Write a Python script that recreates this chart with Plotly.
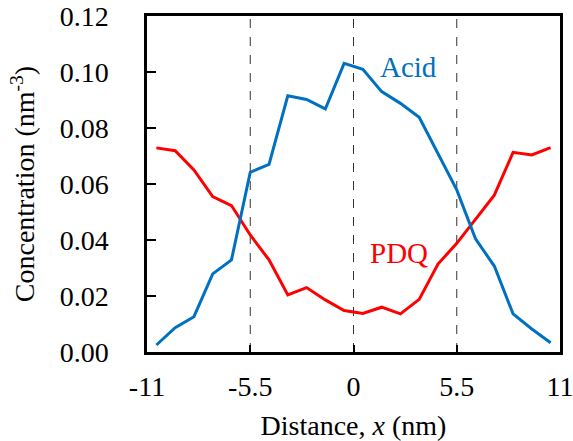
import plotly.graph_objects as go

x_pos = [-10.5, -9.5, -8.5, -7.5, -6.5, -5.5, -4.5, -3.5, -2.5, -1.5, -0.5,
         0.5, 1.5, 2.5, 3.5, 4.5, 5.5, 6.5, 7.5, 8.5, 9.5, 10.5]
acid = [0.0025, 0.0087, 0.0126, 0.0279, 0.0329, 0.0642, 0.0670, 0.0915, 0.0902, 0.0868, 0.1031,
        0.1010, 0.0930, 0.0888, 0.0838, 0.0709, 0.0579, 0.0404, 0.0307, 0.0136, 0.0082, 0.0033]
pdq = [0.0729, 0.0719, 0.0650, 0.0555, 0.0523, 0.0418, 0.0329, 0.0204, 0.0230, 0.0186, 0.0148,
       0.0138, 0.0160, 0.0136, 0.0188, 0.0314, 0.0388, 0.0475, 0.0560, 0.0713, 0.0704, 0.0730]
x_ticks = [-11, -5.5, 0, 5.5, 11]
x_tick_text = ["-11", "-5.5", "0", "5.5", "11"]
y_ticks = [0, 0.02, 0.04, 0.06, 0.08, 0.10, 0.12]
dash_x = [-5.5, 0, 5.5]

FONT = "Liberation Serif"
BLUE = "#0070C0"
RED = "#FF0000"

fig = go.Figure()
for dx in dash_x:
    fig.add_shape(type="line", x0=dx, x1=dx, y0=0, y1=0.12, xref="x", yref="y",
                  line=dict(color="#333333", width=1, dash="dash"), layer="below")

fig.add_trace(go.Scatter(x=x_pos, y=pdq, mode="lines", line=dict(color=RED, width=3), showlegend=False))
fig.add_trace(go.Scatter(x=x_pos, y=acid, mode="lines", line=dict(color=BLUE, width=3), showlegend=False))

fig.add_annotation(x=2.95, y=0.1018, text="Acid", showarrow=False,
                   font=dict(family=FONT, size=29, color=BLUE))
fig.add_annotation(x=2.4, y=0.0354, text="PDQ", showarrow=False,
                   font=dict(family=FONT, size=29, color=RED))

fig.update_layout(
    width=573, height=441,
    margin=dict(l=147, r=13, t=16, b=89),
    plot_bgcolor="white", paper_bgcolor="white",
    font=dict(family=FONT, size=28, color="black"),
    xaxis=dict(range=[-11, 11], tickvals=x_ticks, ticktext=x_tick_text,
               ticks="inside", ticklen=7, tickwidth=2, tickcolor="black",
               ticklabelstandoff=8, ticklabeloverflow="allow", automargin=False,
               showline=True, linecolor="black", linewidth=2.5, mirror=True,
               showgrid=False, zeroline=False,
               title=dict(text="Distance, <i>x</i> (nm)", standoff=16,
                          font=dict(family=FONT, size=28))),
    yaxis=dict(range=[0, 0.12], tickvals=y_ticks, tickformat=".2f",
               ticks="inside", ticklen=9, tickwidth=2, tickcolor="black",
               ticklabelstandoff=30, ticklabeloverflow="allow", automargin=False,
               showline=True, linecolor="black", linewidth=2.5, mirror=True,
               showgrid=False, zeroline=False,
               title=dict(text="Concentration (nm<sup>-3</sup>)", standoff=17,
                          font=dict(family=FONT, size=28))),
)

fig.write_html("out.html")
